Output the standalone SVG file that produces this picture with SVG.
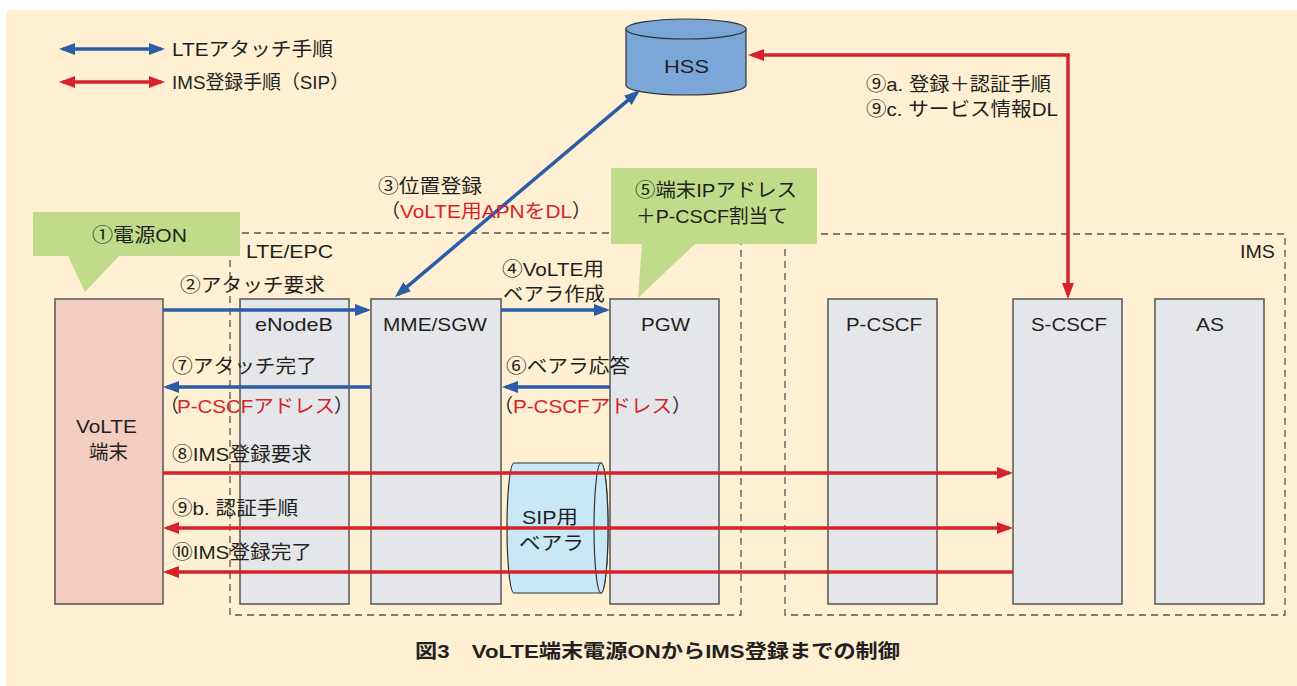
<svg xmlns="http://www.w3.org/2000/svg" width="1297" height="686" viewBox="0 0 1297 686">
<defs>
<style>
text{font-family:"Liberation Sans","Noto Sans CJK JP",sans-serif;fill:#231f20;font-size:19px}
.red{fill:#d4232a}
.box{fill:#e5e6e9;stroke:#555;stroke-width:1.5}
.dash{fill:none;stroke:#555;stroke-width:1.3;stroke-dasharray:7 5}
.bl{stroke:#2a5ca8;stroke-width:3.5;fill:none}
.rd{stroke:#d4232a;stroke-width:3.5;fill:none}
.call{fill:#c0dc8a}
</style>
<marker id="ab" viewBox="0 0 16 12" refX="12" refY="6" markerWidth="16" markerHeight="12" markerUnits="userSpaceOnUse" orient="auto-start-reverse"><path d="M0,0 L16,6 L0,12 z" fill="#2a5ca8"/></marker>
<marker id="ar" viewBox="0 0 16 12" refX="12" refY="6" markerWidth="16" markerHeight="12" markerUnits="userSpaceOnUse" orient="auto-start-reverse"><path d="M0,0 L16,6 L0,12 z" fill="#d4232a"/></marker>
</defs>
<rect x="0" y="0" width="1297" height="686" fill="#ffffff"/>
<rect x="6" y="10" width="1291" height="676" fill="#ffefd3"/>

<g id="legend">
<line class="bl" x1="63" y1="49" x2="161" y2="49" marker-start="url(#ab)" marker-end="url(#ab)"/>
<text x="172" y="56" textLength="161" lengthAdjust="spacingAndGlyphs">LTEアタッチ手順</text>
<line class="rd" x1="63" y1="82" x2="161" y2="82" marker-start="url(#ar)" marker-end="url(#ar)"/>
<text x="172" y="89" textLength="177" lengthAdjust="spacingAndGlyphs">IMS登録手順（SIP）</text>
</g>

<g id="groups">
<rect class="dash" x="230" y="233" width="511" height="382"/>
<text x="246" y="258" textLength="87" lengthAdjust="spacingAndGlyphs">LTE/EPC</text>
<rect class="dash" x="785" y="234" width="500" height="381"/>
<text x="1240" y="258" textLength="35" lengthAdjust="spacingAndGlyphs">IMS</text>
</g>

<g id="hss">
<path d="M626,29 L626,85 A60,10 0 0 0 746,85 L746,29 Z" fill="#7ba6d8" stroke="#333" stroke-width="1.2"/>
<ellipse cx="686" cy="29" rx="60" ry="10" fill="#7ba6d8" stroke="#333" stroke-width="1.2"/>
<text x="664" y="73" textLength="45" lengthAdjust="spacingAndGlyphs">HSS</text>
</g>

<g id="volte">
<rect x="55" y="299" width="108" height="305" fill="#f3cdbf" stroke="#555" stroke-width="1.5"/>
<text x="76" y="433" textLength="61" lengthAdjust="spacingAndGlyphs">VoLTE</text>
<text x="89" y="459" textLength="39" lengthAdjust="spacingAndGlyphs">端末</text>
</g>
<g id="enodeb">
<rect class="box" x="240" y="299" width="109" height="305"/>
<text x="255" y="331" textLength="78" lengthAdjust="spacingAndGlyphs">eNodeB</text>
</g>
<g id="mme">
<rect class="box" x="371" y="299" width="130" height="305"/>
<text x="383" y="331" textLength="104" lengthAdjust="spacingAndGlyphs">MME/SGW</text>
</g>
<g id="pgw">
<rect class="box" x="610" y="299" width="109" height="305"/>
<text x="641" y="331" textLength="49" lengthAdjust="spacingAndGlyphs">PGW</text>
</g>
<g id="pcscf">
<rect class="box" x="828" y="299" width="109" height="305"/>
<text x="846" y="331" textLength="76" lengthAdjust="spacingAndGlyphs">P-CSCF</text>
</g>
<g id="scscf">
<rect class="box" x="1013" y="299" width="109" height="305"/>
<text x="1031" y="331" textLength="76" lengthAdjust="spacingAndGlyphs">S-CSCF</text>
</g>
<g id="as">
<rect class="box" x="1155" y="299" width="109" height="305"/>
<text x="1196" y="331" textLength="28" lengthAdjust="spacingAndGlyphs">AS</text>
</g>

<g id="sipbearer">
<path d="M514,463 L601,463 A7,65 0 0 1 601,593 L514,593 A7,65 0 0 1 514,463 Z" fill="#c8e8f8" stroke="#333" stroke-width="1.2"/>
<ellipse cx="601" cy="528" rx="7" ry="65" fill="#c8e8f8" stroke="#333" stroke-width="1.2"/>
<text x="522" y="524" textLength="56" lengthAdjust="spacingAndGlyphs">SIP用</text>
<text x="519" y="550" textLength="65" lengthAdjust="spacingAndGlyphs">ベアラ</text>
</g>

<g id="callout1">
<path class="call" d="M33,212 L240,212 L240,256 L119,256 L85,292 L68,256 L33,256 Z"/>
<text x="92" y="242" textLength="95" lengthAdjust="spacingAndGlyphs">①電源ON</text>
</g>
<g id="callout5">
<path class="call" d="M611,168 L817,168 L817,244 L695,244 L638,298 L642,244 L611,244 Z"/>
<text x="635" y="197" textLength="162" lengthAdjust="spacingAndGlyphs">⑤端末IPアドレス</text>
<text x="636" y="223" textLength="152" lengthAdjust="spacingAndGlyphs">＋P-CSCF割当て</text>
</g>

<g id="connectors">
<line class="bl" x1="398" y1="294.4" x2="637" y2="92.6" marker-start="url(#ab)" marker-end="url(#ab)"/>
<path class="rd" d="M752,55 L1068,55 L1068,295" marker-start="url(#ar)" marker-end="url(#ar)"/>
<line class="bl" x1="163" y1="310" x2="367" y2="310" marker-end="url(#ab)"/>
<line class="bl" x1="501" y1="310" x2="606" y2="310" marker-end="url(#ab)"/>
<line class="bl" x1="371" y1="387" x2="167" y2="387" marker-end="url(#ab)"/>
<line class="bl" x1="610" y1="387" x2="506" y2="387" marker-end="url(#ab)"/>
<line class="rd" x1="163" y1="473" x2="1009" y2="473" marker-end="url(#ar)"/>
<line class="rd" x1="167" y1="528" x2="1009" y2="528" marker-start="url(#ar)" marker-end="url(#ar)"/>
<line class="rd" x1="1013" y1="572" x2="167" y2="572" marker-end="url(#ar)"/>
</g>

<g id="labels">
<text x="866" y="91" textLength="185" lengthAdjust="spacingAndGlyphs">⑨a. 登録＋認証手順</text>
<text x="866" y="116" textLength="192" lengthAdjust="spacingAndGlyphs">⑨c. サービス情報DL</text>
<text x="378" y="193" textLength="104" lengthAdjust="spacingAndGlyphs">③位置登録</text>
<text x="381" y="218">（</text>
<text class="red" x="400" y="218" textLength="172" lengthAdjust="spacingAndGlyphs">VoLTE用APNをDL</text>
<text x="572" y="218">）</text>
<text x="180" y="292" textLength="145" lengthAdjust="spacingAndGlyphs">②アタッチ要求</text>
<text x="502" y="276" textLength="102" lengthAdjust="spacingAndGlyphs">④VoLTE用</text>
<text x="503" y="301" textLength="102" lengthAdjust="spacingAndGlyphs">ベアラ作成</text>
<text x="172" y="373" textLength="145" lengthAdjust="spacingAndGlyphs">⑦アタッチ完了</text>
<text x="160" y="413">（</text>
<text class="red" x="177" y="413" textLength="158" lengthAdjust="spacingAndGlyphs">P-CSCFアドレス</text>
<text x="334" y="413">）</text>
<text x="506" y="373" textLength="124" lengthAdjust="spacingAndGlyphs">⑥ベアラ応答</text>
<text x="494" y="413">（</text>
<text class="red" x="513" y="413" textLength="159" lengthAdjust="spacingAndGlyphs">P-CSCFアドレス</text>
<text x="672" y="413">）</text>
<text x="172" y="461" textLength="140" lengthAdjust="spacingAndGlyphs">⑧IMS登録要求</text>
<text x="172" y="515" textLength="126" lengthAdjust="spacingAndGlyphs">⑨b. 認証手順</text>
<text x="172" y="559" textLength="140" lengthAdjust="spacingAndGlyphs">⑩IMS登録完了</text>
</g>

<text x="415" y="658" textLength="485" lengthAdjust="spacingAndGlyphs" style="font-weight:bold;font-size:19px">図3　VoLTE端末電源ONからIMS登録までの制御</text>
</svg>
